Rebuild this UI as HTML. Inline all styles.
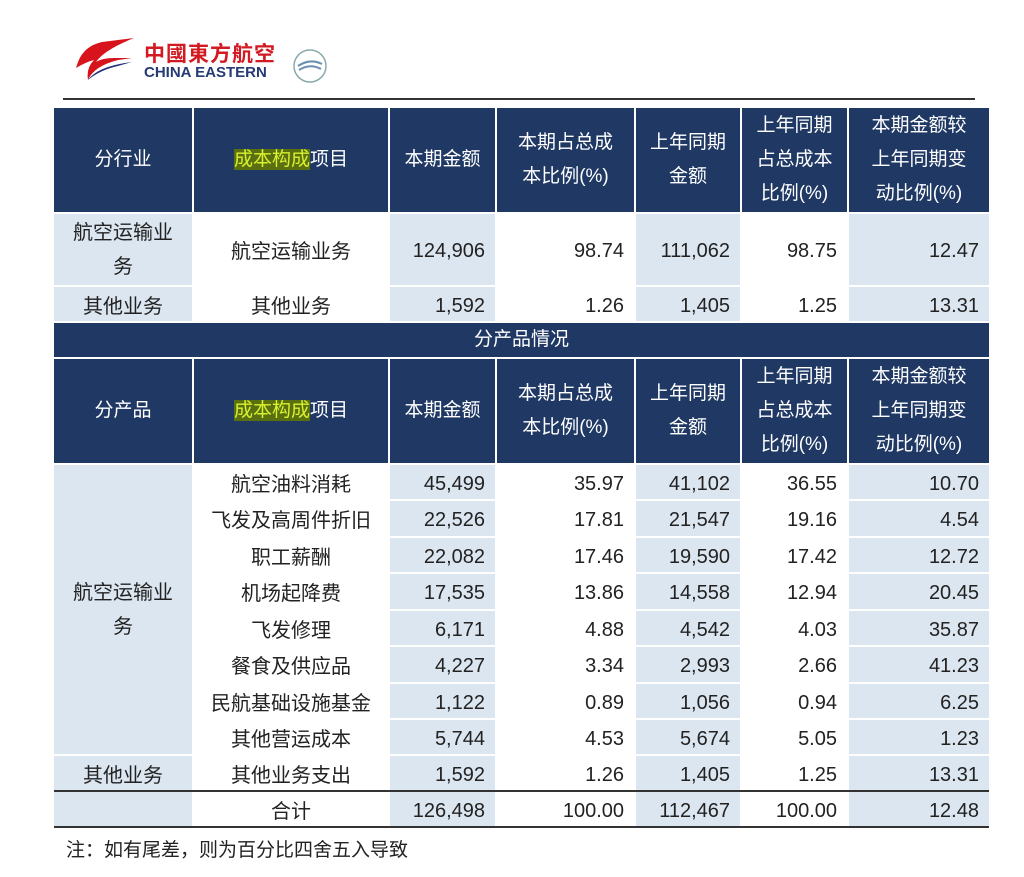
<!DOCTYPE html>
<html><head><meta charset="utf-8">
<style>
html,body{margin:0;padding:0;background:#fff;}
body{width:1024px;height:877px;position:relative;overflow:hidden;font-family:"Liberation Sans","Noto Sans CJK SC",sans-serif;color:#222;}
.c{position:absolute;display:flex;align-items:center;justify-content:center;font-size:20px;box-sizing:border-box;text-align:center;}
.n{justify-content:flex-end;padding-right:10px;padding-top:4px;}
.L{background:#dce6f1;}
.W{background:#fff;}
.D{background:#1f3864;color:#fff;line-height:34px;font-size:19px;}
.x1{left:54px;width:138px}.x2{left:194px;width:194px}.x3{left:390px;width:105px}.x4{left:497px;width:137px}
.x5{left:636px;width:104px}.x6{left:742px;width:105px}.x7{left:849px;width:140px}
.hl{background:#5a7010;color:#d8f030;}
.ln{position:absolute;left:54px;width:935px;height:2px;background:#333;}
</style></head><body>
<svg style="position:absolute;left:74px;top:36px" width="64" height="52" viewBox="0 0 64 52">
<path d="M60 2 L28 6 Q10 10 4 26 L2 32 Q12 26 20 24 Q12 32 14 44 Q20 30 44 24 L58 22 L40 22 Q28 22 22 26 Q30 14 60 2Z" fill="#d7141b"/>
<path d="M14 44 Q24 30 58 26 L44 30 Q26 34 14 44Z" fill="#25317a"/>
</svg>
<div style="position:absolute;left:144px;top:38px;font-size:21px;font-weight:bold;color:#d21a22;letter-spacing:1px">中國東方航空</div>
<div style="position:absolute;left:144px;top:64px;font-size:15px;font-weight:bold;color:#263a74">CHINA EASTERN</div>
<svg style="position:absolute;left:290px;top:46px" width="40" height="40"><circle cx="20" cy="20" r="16" fill="none" stroke="#8aa" stroke-width="1.5"/><path d="M8 20 Q20 12 32 18 M9 24 Q20 17 31 23" stroke="#6b8fb0" stroke-width="2" fill="none"/></svg>
<div style="position:absolute;left:63px;top:98px;width:912px;height:2px;background:#333"></div>

<div class="c D x1" style="top:108px;height:104px">分行业</div>
<div class="c D x2" style="top:108px;height:104px"><span><span class="hl">成本构成</span>项目</span></div>
<div class="c D x3" style="top:108px;height:104px">本期金额</div>
<div class="c D x4" style="top:108px;height:104px">本期占总成<br>本比例(%)</div>
<div class="c D x5" style="top:108px;height:104px">上年同期<br>金额</div>
<div class="c D x6" style="top:108px;height:104px">上年同期<br>占总成本<br>比例(%)</div>
<div class="c D x7" style="top:108px;height:104px">本期金额较<br>上年同期变<br>动比例(%)</div>

<div class="c L x1" style="top:214px;height:71px;line-height:34px">航空运输业<br>务</div>
<div class="c W x2" style="top:214px;height:71px">航空运输业务</div>
<div class="c L x3 n" style="top:214px;height:71px">124,906</div>
<div class="c W x4 n" style="top:214px;height:71px">98.74</div>
<div class="c L x5 n" style="top:214px;height:71px">111,062</div>
<div class="c W x6 n" style="top:214px;height:71px">98.75</div>
<div class="c L x7 n" style="top:214px;height:71px">12.47</div>

<div class="c L x1" style="top:287px;height:34px">其他业务</div>
<div class="c W x2" style="top:287px;height:34px">其他业务</div>
<div class="c L x3 n" style="top:287px;height:34px">1,592</div>
<div class="c W x4 n" style="top:287px;height:34px">1.26</div>
<div class="c L x5 n" style="top:287px;height:34px">1,405</div>
<div class="c W x6 n" style="top:287px;height:34px">1.25</div>
<div class="c L x7 n" style="top:287px;height:34px">13.31</div>

<div class="c D" style="left:54px;width:935px;top:323px;height:34px">分产品情况</div>

<div class="c D x1" style="top:359px;height:104px">分产品</div>
<div class="c D x2" style="top:359px;height:104px"><span><span class="hl">成本构成</span>项目</span></div>
<div class="c D x3" style="top:359px;height:104px">本期金额</div>
<div class="c D x4" style="top:359px;height:104px">本期占总成<br>本比例(%)</div>
<div class="c D x5" style="top:359px;height:104px">上年同期<br>金额</div>
<div class="c D x6" style="top:359px;height:104px">上年同期<br>占总成本<br>比例(%)</div>
<div class="c D x7" style="top:359px;height:104px">本期金额较<br>上年同期变<br>动比例(%)</div>

<div class="c L x1" style="top:465px;height:289px;line-height:34px">航空运输业<br>务</div>

<div class="c W x2" style="top:465px;height:34px">航空油料消耗</div><div class="c L x3 n" style="top:465px;height:34px">45,499</div><div class="c W x4 n" style="top:465px;height:34px">35.97</div><div class="c L x5 n" style="top:465px;height:34px">41,102</div><div class="c W x6 n" style="top:465px;height:34px">36.55</div><div class="c L x7 n" style="top:465px;height:34px">10.70</div>
<div class="c W x2" style="top:501px;height:35px">飞发及高周件折旧</div><div class="c L x3 n" style="top:501px;height:35px">22,526</div><div class="c W x4 n" style="top:501px;height:35px">17.81</div><div class="c L x5 n" style="top:501px;height:35px">21,547</div><div class="c W x6 n" style="top:501px;height:35px">19.16</div><div class="c L x7 n" style="top:501px;height:35px">4.54</div>
<div class="c W x2" style="top:538px;height:34px">职工薪酬</div><div class="c L x3 n" style="top:538px;height:34px">22,082</div><div class="c W x4 n" style="top:538px;height:34px">17.46</div><div class="c L x5 n" style="top:538px;height:34px">19,590</div><div class="c W x6 n" style="top:538px;height:34px">17.42</div><div class="c L x7 n" style="top:538px;height:34px">12.72</div>
<div class="c W x2" style="top:574px;height:35px">机场起降费</div><div class="c L x3 n" style="top:574px;height:35px">17,535</div><div class="c W x4 n" style="top:574px;height:35px">13.86</div><div class="c L x5 n" style="top:574px;height:35px">14,558</div><div class="c W x6 n" style="top:574px;height:35px">12.94</div><div class="c L x7 n" style="top:574px;height:35px">20.45</div>
<div class="c W x2" style="top:611px;height:34px">飞发修理</div><div class="c L x3 n" style="top:611px;height:34px">6,171</div><div class="c W x4 n" style="top:611px;height:34px">4.88</div><div class="c L x5 n" style="top:611px;height:34px">4,542</div><div class="c W x6 n" style="top:611px;height:34px">4.03</div><div class="c L x7 n" style="top:611px;height:34px">35.87</div>
<div class="c W x2" style="top:647px;height:35px">餐食及供应品</div><div class="c L x3 n" style="top:647px;height:35px">4,227</div><div class="c W x4 n" style="top:647px;height:35px">3.34</div><div class="c L x5 n" style="top:647px;height:35px">2,993</div><div class="c W x6 n" style="top:647px;height:35px">2.66</div><div class="c L x7 n" style="top:647px;height:35px">41.23</div>
<div class="c W x2" style="top:684px;height:34px">民航基础设施基金</div><div class="c L x3 n" style="top:684px;height:34px">1,122</div><div class="c W x4 n" style="top:684px;height:34px">0.89</div><div class="c L x5 n" style="top:684px;height:34px">1,056</div><div class="c W x6 n" style="top:684px;height:34px">0.94</div><div class="c L x7 n" style="top:684px;height:34px">6.25</div>
<div class="c W x2" style="top:720px;height:34px">其他营运成本</div><div class="c L x3 n" style="top:720px;height:34px">5,744</div><div class="c W x4 n" style="top:720px;height:34px">4.53</div><div class="c L x5 n" style="top:720px;height:34px">5,674</div><div class="c W x6 n" style="top:720px;height:34px">5.05</div><div class="c L x7 n" style="top:720px;height:34px">1.23</div>
<div class="c L x1" style="top:756px;height:34px">其他业务</div>
<div class="c W x2" style="top:756px;height:34px">其他业务支出</div><div class="c L x3 n" style="top:756px;height:34px">1,592</div><div class="c W x4 n" style="top:756px;height:34px">1.26</div><div class="c L x5 n" style="top:756px;height:34px">1,405</div><div class="c W x6 n" style="top:756px;height:34px">1.25</div><div class="c L x7 n" style="top:756px;height:34px">13.31</div>

<div class="ln" style="top:790px"></div>
<div class="c L x1" style="top:792px;height:34px"></div>
<div class="c W x2" style="top:792px;height:34px">合计</div><div class="c L x3 n" style="top:792px;height:34px">126,498</div><div class="c W x4 n" style="top:792px;height:34px">100.00</div><div class="c L x5 n" style="top:792px;height:34px">112,467</div><div class="c W x6 n" style="top:792px;height:34px">100.00</div><div class="c L x7 n" style="top:792px;height:34px">12.48</div>
<div class="ln" style="top:826px"></div>

<div style="position:absolute;left:66px;top:835px;font-size:19px">注：如有尾差，则为百分比四舍五入导致</div>
</body></html>
